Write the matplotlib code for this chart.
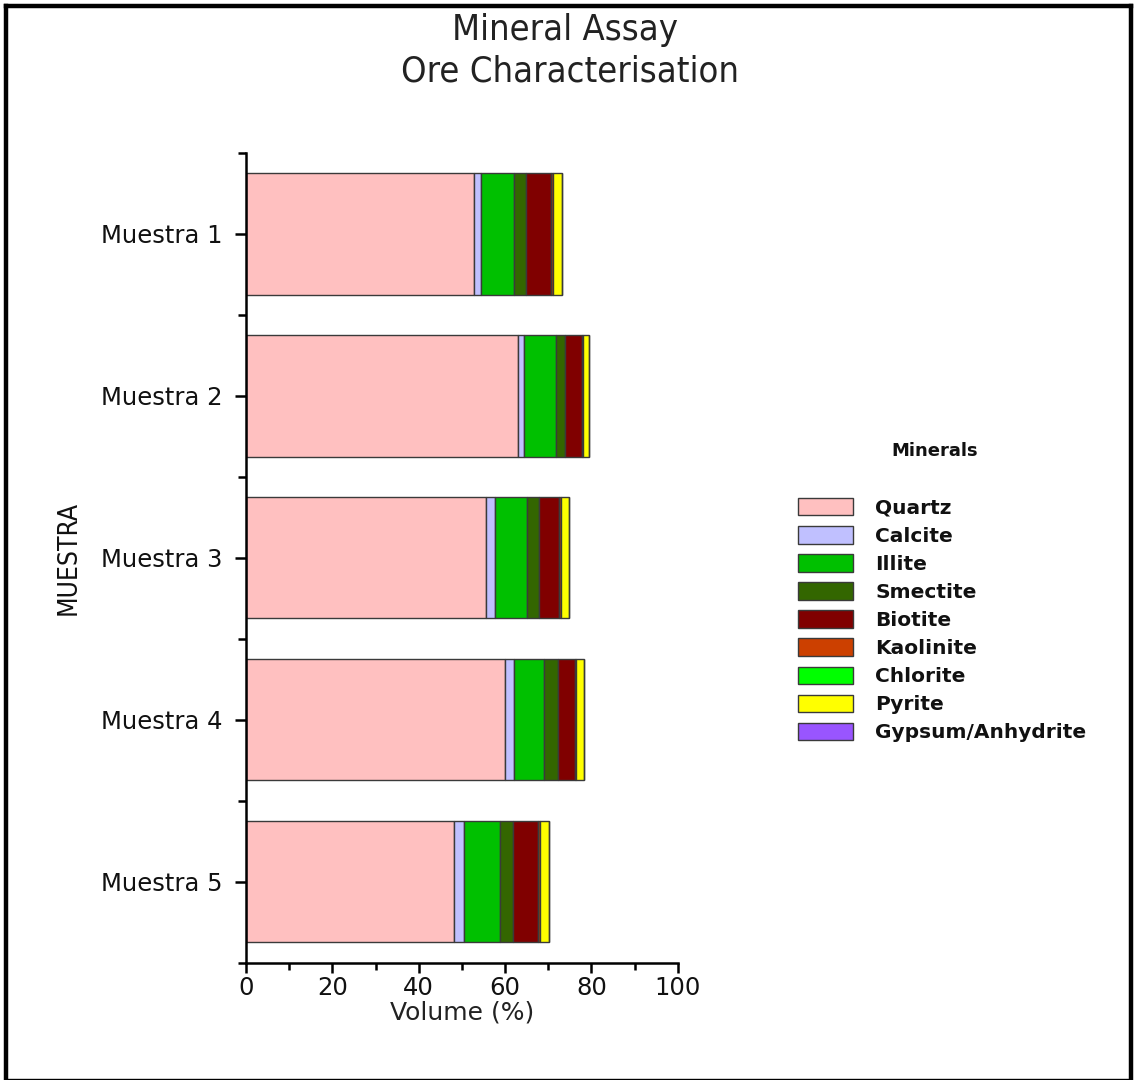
import numpy as np
import matplotlib
matplotlib.use('Agg')
from matplotlib import pyplot as plt
from matplotlib.lines import Line2D
from matplotlib.patches import Patch

# Sample names and mineral volumes (%)
samples = ['Muestra 1', 'Muestra 2', 'Muestra 3', 'Muestra 4', 'Muestra 5']
minerals = ['Quartz', 'Calcite', 'Illite', 'Smectite', 'Biotite',
            'Kaolinite', 'Chlorite', 'Pyrite', 'Gypsum/Anhydrite']
colors = ['#FFC0C0', '#C0C0FF', '#00C000', '#336600', '#800000',
          '#CC4000', '#00FF00', '#FFFF00', '#9955FF']

quartz = [52.9, 62.9, 55.5, 60.1, 48.2]
calcite = [1.6, 1.6, 2.2, 1.9, 2.4]
illite = [7.5, 7.3, 7.5, 7.1, 8.3]
smectite = [2.8, 2.0, 2.7, 3.1, 3.0]
biotite = [5.9, 4.0, 4.7, 4.0, 5.8]
kaolinite = [0.5, 0.2, 0.3, 0.3, 0.3]
chlorite = [0.0, 0.0, 0.0, 0.0, 0.0]
pyrite = [2.1, 1.4, 2.0, 1.7, 2.2]
gypsum = [0.0, 0.0, 0.0, 0.0, 0.0]

series = [quartz, calcite, illite, smectite, biotite,
          kaolinite, chlorite, pyrite, gypsum]

plt.rcParams['font.family'] = ['DejaVu Sans']

W, H = 1134, 1080
fig = plt.figure(figsize=(W / 100, H / 100), dpi=100)

ax = fig.add_axes([246 / W, 1 - 962.5 / H, 431.7 / W, 809.5 / H])

y = np.arange(1, len(samples) + 1)
left = np.zeros(len(samples))
for name, vals, c in zip(minerals, series, colors):
    vals = np.array(vals)
    ax.barh(y, vals, left=left, height=0.75, color=c,
            edgecolor='#3a3a3a', linewidth=1.0, label=name)
    left += vals

ax.set_xlim(0, 100)
ax.set_ylim(5.5, 0.5)
ax.set_yticks(y)
ax.set_yticklabels(samples, fontsize=17.5, color='#111111')
ax.set_yticks(np.arange(0.5, 6.0, 1.0), minor=True)
ax.set_xticks(np.arange(0, 101, 20))
ax.set_xticks(np.arange(10, 100, 20), minor=True)
ax.tick_params(axis='x', labelsize=17.5, length=7, width=1.8, pad=3, labelcolor='#111111')
ax.tick_params(axis='x', which='minor', length=5, width=1.8)
ax.tick_params(axis='y', length=8, width=1.8, pad=9)
ax.tick_params(axis='y', which='minor', length=6, width=1.8)

for s in ['top', 'right']:
    ax.spines[s].set_visible(False)
for s in ['left', 'bottom']:
    ax.spines[s].set_linewidth(1.8)

ax.set_xlabel('Volume (%)', fontsize=18, color='#222222', labelpad=0)
ax.set_ylabel('MUESTRA', fontsize=19, color='#111111', labelpad=14,
              family='DejaVu Sans', stretch='condensed')

# Title
title_kw = dict(ha='center', va='center', fontsize=26, color='#222222',
                family='DejaVu Sans', stretch='condensed')
fig.text(565 / W, 1 - 30 / H, 'Mineral Assay', **title_kw)
fig.text(570 / W, 1 - 72 / H, 'Ore Characterisation', **title_kw)

# Legend
fig.text(935 / W, 1 - 451 / H, 'Minerals', ha='center', va='center',
         fontsize=13, fontweight='bold', color='#111111')
handles = [Patch(facecolor=c, edgecolor='#3a3a3a', linewidth=1.0) for c in colors]
fig.legend(handles, minerals, loc='upper left',
           bbox_to_anchor=(782 / W, 1 - 482 / H), frameon=False,
           prop=dict(size=14.5, weight='bold'), labelcolor='#111111',
           handlelength=2.74, handleheight=0.95,
           labelspacing=0.42, handletextpad=1.1, borderpad=0.3)

# Outer frame
frame_kw = dict(color='black', transform=fig.transFigure, solid_capstyle='projecting')
fig.add_artist(Line2D([6 / W, 1131 / W], [1 - 5.5 / H, 1 - 5.5 / H], lw=3.2, **frame_kw))
fig.add_artist(Line2D([6 / W, 6 / W], [1 - 5.5 / H, 1 - 1078.5 / H], lw=3.2, **frame_kw))
fig.add_artist(Line2D([1131 / W, 1131 / W], [1 - 5.5 / H, 1 - 1078.5 / H], lw=3.2, **frame_kw))
fig.add_artist(Line2D([6 / W, 1131 / W], [1 - 1078.5 / H, 1 - 1078.5 / H], lw=1.0, **frame_kw))

fig.savefig('out.png', dpi=100)
